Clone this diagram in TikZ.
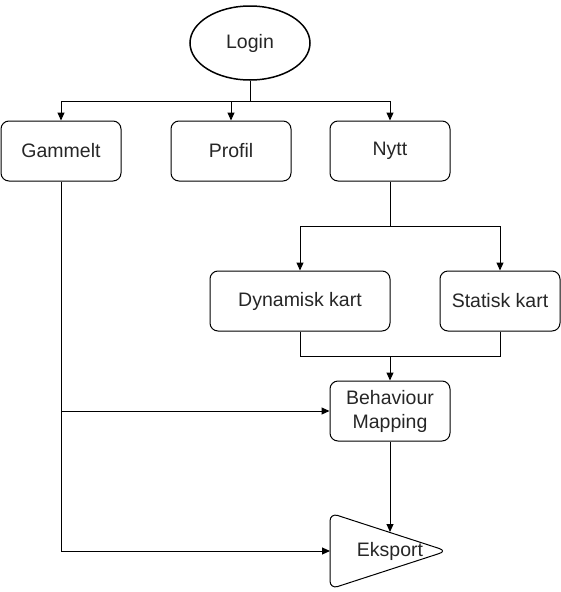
\documentclass[tikz,border=0pt]{standalone}
\usepackage{fontspec}
\setmainfont{Liberation Sans}
\usetikzlibrary{arrows.meta,shapes.geometric}
\begin{document}
\begin{tikzpicture}[x=1pt,y=-1pt,
  every node/.style={font=\fontsize{19.5}{24}\selectfont, text=black!85},
  box/.style={draw, line width=1pt, rounded corners=8pt, minimum width=120pt, minimum height=60pt, inner sep=0pt, align=center},
  conn/.style={line width=1pt},
  arr/.style={line width=1pt, -{Triangle[length=8pt,width=7pt]}}]
\useasboundingbox (0,0) rectangle (561,592);
\node[draw, line width=1.5pt, ellipse, minimum width=120pt, minimum height=74pt, inner sep=0pt] (login) at (250,43) {Login};
\node[box] (gam) at (61,151) {Gammelt};
\node[box] (pro) at (231,151) {Profil};
\node[box] (nyt) at (390,151) {Nytt};
\node[box, minimum width=180pt] (dyn) at (300,301) {Dynamisk kart};
\node[box] (sta) at (500,301) {Statisk kart};
\node[box] (beh) at (390,411) {Behaviour\\Mapping};
\coordinate (ta) at (330,513);
\coordinate (tb) at (447,551);
\coordinate (tc) at (330,589);
\draw[line width=1pt, rounded corners=8pt] (330,551) -- (ta) -- (tb) -- (tc) -- cycle;
\node (eks) at (390,551) {Eksport};
\coordinate (eksl) at (330,551);
\coordinate (ekst) at (390,532);
% Login branches
\coordinate (j1) at (250,101);
\draw[conn] (login.south) -- (j1);
\draw[arr] (j1) -| (gam.north);
\draw[arr] (j1) -| (pro.north);
\draw[arr] (j1) -| (nyt.north);
% Nytt branches
\coordinate (j2) at (390,226);
\draw[conn] (nyt.south) -- (j2);
\draw[arr] (j2) -| (dyn.north);
\draw[arr] (j2) -| (sta.north);
% merge to Behaviour
\coordinate (j3) at (390,356);
\draw[conn] (dyn.south) |- (j3);
\draw[conn] (sta.south) |- (j3);
\draw[arr] (j3) -- (beh.north);
% Gammelt
\draw[arr] (gam.south) |- (beh.west);
\draw[arr] (gam.south) |- (eksl);
\draw[arr] (beh.south) -- (ekst);
\end{tikzpicture}
\end{document}
